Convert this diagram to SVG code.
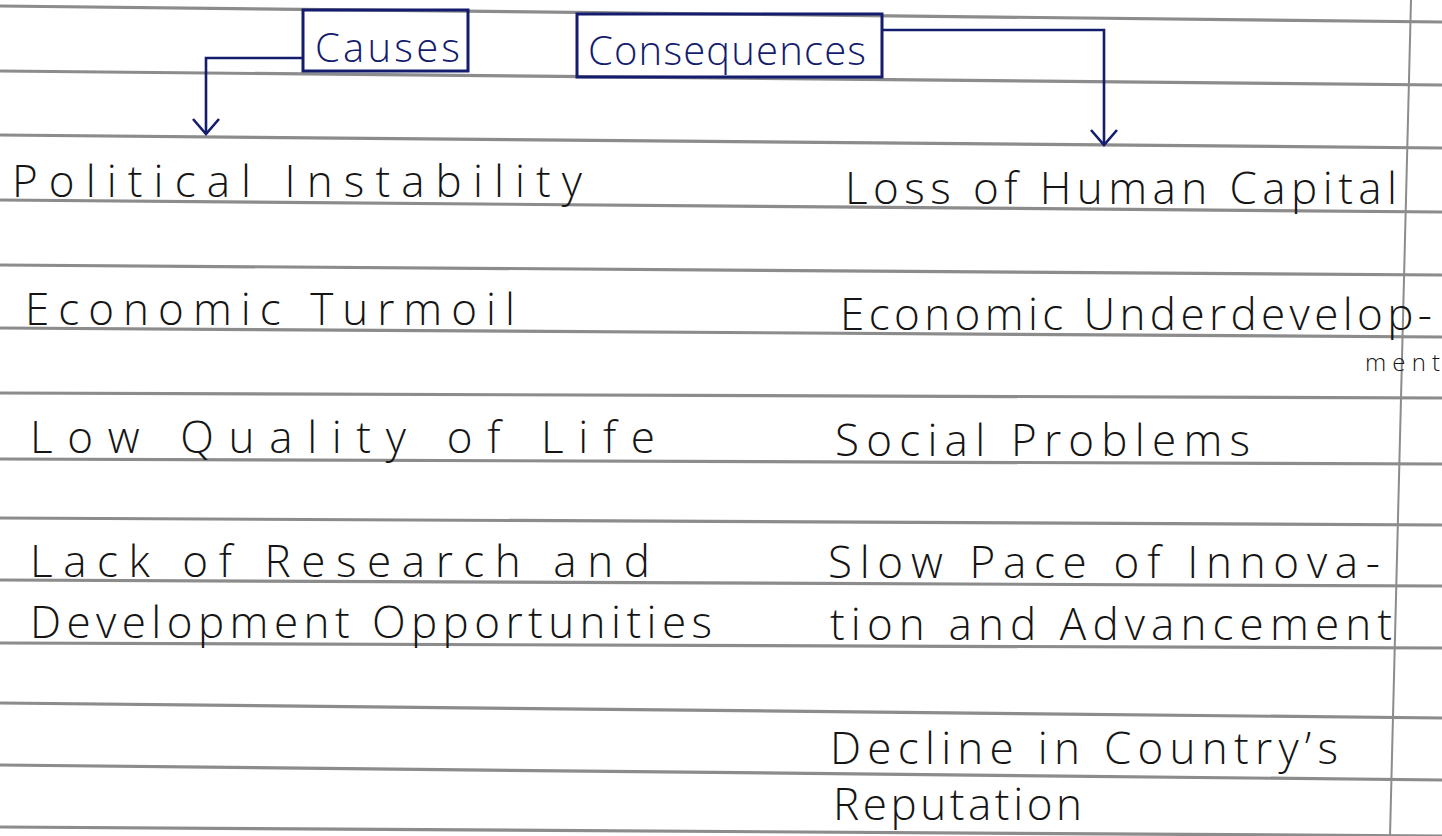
<svg xmlns="http://www.w3.org/2000/svg" width="1442" height="836" viewBox="0 0 1442 836">
<defs>
<style>
.rule{stroke:#8c8c8c;stroke-width:3.2;fill:none}
.margin{stroke:#8c8c8c;stroke-width:2;fill:none}
.hw{font-family:"Open Sans","DejaVu Sans",sans-serif;font-weight:300;fill:#151515;font-size:44px}
.small{font-size:24px}
.box{fill:none;stroke:#141c6e;stroke-width:3}
.boxtxt{font-family:"Open Sans","DejaVu Sans",sans-serif;font-weight:300;fill:#141c6e;font-size:40px}
.conn{fill:none;stroke:#141c6e;stroke-width:2.6}
</style>
<marker id="arr" viewBox="0 0 20 30" refX="18" refY="15" markerWidth="20" markerHeight="30" markerUnits="userSpaceOnUse" orient="auto">
<path d="M3 2 L18 15 L3 28" fill="none" stroke="#141c6e" stroke-width="2.6"/>
</marker>
</defs>
<rect width="1442" height="836" fill="#ffffff"/>
<g id="paper">
<line class="rule" x1="0" y1="6" x2="1442" y2="22"/>
<line class="rule" x1="0" y1="71" x2="1442" y2="85"/>
<line class="rule" x1="0" y1="135" x2="1442" y2="148"/>
<line class="rule" x1="0" y1="200" x2="1442" y2="212"/>
<line class="rule" x1="0" y1="265" x2="1442" y2="275"/>
<line class="rule" x1="0" y1="328" x2="1442" y2="337"/>
<line class="rule" x1="0" y1="393" x2="1442" y2="398"/>
<line class="rule" x1="0" y1="459" x2="1442" y2="464"/>
<line class="rule" x1="0" y1="518" x2="1442" y2="525"/>
<line class="rule" x1="0" y1="580" x2="1442" y2="586"/>
<line class="rule" x1="0" y1="643" x2="1442" y2="648"/>
<line class="rule" x1="0" y1="703" x2="1442" y2="718"/>
<line class="rule" x1="0" y1="765" x2="1442" y2="780"/>
<line class="rule" x1="0" y1="827" x2="1442" y2="836"/>
<line class="margin" x1="1411" y1="0" x2="1390" y2="836"/>
</g>
<g id="connectors">
<path class="conn" d="M303 58 H206 V134" marker-end="url(#arr)"/>
<path class="conn" d="M882 30 H1104 V145" marker-end="url(#arr)"/>
</g>
<g id="causes">
<rect class="box" x="303" y="10" width="165" height="61"/>
<text class="boxtxt" x="315" y="62" textLength="145" lengthAdjust="spacing">Causes</text>
</g>
<g id="consequences">
<rect class="box" x="577" y="14" width="305" height="63"/>
<text class="boxtxt" x="588" y="65" textLength="278" lengthAdjust="spacing">Consequences</text>
</g>
<g id="cause-1"><text class="hw" x="12" y="197" textLength="570" lengthAdjust="spacing">Political Instability</text></g>
<g id="cause-2"><text class="hw" x="25" y="325" textLength="490" lengthAdjust="spacing">Economic Turmoil</text></g>
<g id="cause-3"><text class="hw" x="30" y="453" textLength="625" lengthAdjust="spacing">Low Quality of Life</text></g>
<g id="cause-4">
<text class="hw" x="30" y="577" textLength="620" lengthAdjust="spacing">Lack of Research and</text>
<text class="hw" x="30" y="638" textLength="682" lengthAdjust="spacing">Development Opportunities</text>
</g>
<g id="cons-1"><text class="hw" x="845" y="204" textLength="552" lengthAdjust="spacing">Loss of Human Capital</text></g>
<g id="cons-2">
<text class="hw" x="840" y="330" textLength="592" lengthAdjust="spacing">Economic Underdevelop-</text>
<text class="hw small" x="1365" y="371" textLength="75" lengthAdjust="spacing">ment</text>
</g>
<g id="cons-3"><text class="hw" x="835" y="456" textLength="415" lengthAdjust="spacing">Social Problems</text></g>
<g id="cons-4">
<text class="hw" x="828" y="578" textLength="552" lengthAdjust="spacing">Slow Pace of Innova-</text>
<text class="hw" x="830" y="640" textLength="562" lengthAdjust="spacing">tion and Advancement</text>
</g>
<g id="cons-5">
<text class="hw" x="830" y="764" textLength="508" lengthAdjust="spacing">Decline in Country’s</text>
<text class="hw" x="833" y="820" textLength="249" lengthAdjust="spacing">Reputation</text>
</g>
</svg>
